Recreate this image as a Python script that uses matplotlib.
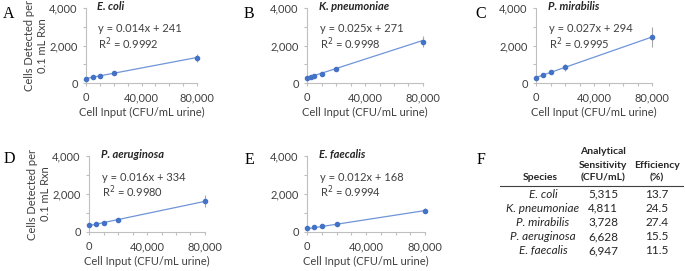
import numpy as np
import matplotlib
matplotlib.use('Agg')
import matplotlib.pyplot as plt
from matplotlib.ticker import MultipleLocator, FuncFormatter

plt.rcParams['font.family'] = ['Lato', 'DejaVu Sans']

# data
species = ['E. coli', 'K. pneumoniae', 'P. mirabilis', 'P. aeruginosa', 'E. faecalis']
panel_letters = ['A', 'B', 'C', 'D', 'E']

x_std = [0, 5000, 10000, 20000, 80000]
x_kp = [0, 2500, 5000, 10000, 20000, 80000]

y_ecoli = [235, 300, 390, 550, 1340]
y_kpneu = [265, 320, 375, 495, 730, 2200]
y_pmir = [285, 410, 600, 830, 2450]
y_paer = [370, 440, 490, 620, 1610]
y_efae = [200, 240, 320, 440, 1120]

err_ecoli = [40, 50, 60, 80, 230]
err_kpneu = [40, 40, 50, 60, 80, 300]
err_pmir = [40, 50, 70, 200, 530]
err_paer = [40, 50, 60, 70, 320]
err_efae = [30, 30, 40, 60, 130]

slopes = [0.014, 0.025, 0.027, 0.016, 0.012]
intercepts = [241, 271, 294, 334, 168]
r2 = ['0.9992', '0.9998', '0.9995', '0.9980', '0.9994']

xs = [x_std, x_kp, x_std, x_std, x_std]
ys = [y_ecoli, y_kpneu, y_pmir, y_paer, y_efae]
errs = [err_ecoli, err_kpneu, err_pmir, err_paer, err_efae]

# table (panel F)
sensitivity = ['5,315', '4,811', '3,728', '6,628', '6,947']
efficiency = ['13.7', '24.5', '27.4', '15.5', '11.5']

W, H = 685, 271
fig = plt.figure(figsize=(W / 100, H / 100), dpi=100)

# axes boxes in pixels: left, top, right, bottom
boxes = [(86, 8, 197, 83), (307, 8, 423, 83), (536, 8, 652, 83),
         (89, 156, 205, 232), (307, 156, 425, 232)]
letter_pos = [(9, 14), (249, 14), (481, 14), (9, 159), (249, 160)]

blue = '#4472C4'
grey = '#BFBFBF'
txt = '#404040'
fs = 8
fmt = FuncFormatter(lambda v, p: '{:,.0f}'.format(v))

for i in range(5):
    l, t, r, b = boxes[i]
    ax = fig.add_axes([l / W, 1 - b / H, (r - l) / W, (b - t) / H])
    x = np.array(xs[i])
    y = np.array(ys[i])
    ax.errorbar(x, y, yerr=errs[i], fmt='none', ecolor='#A6A6A6', elinewidth=0.8,
                capsize=0, clip_on=False, zorder=2)
    xf = np.array([0, 80000])
    ax.plot(xf, slopes[i] * xf + intercepts[i], color='#6F95D8', lw=0.9, clip_on=False, zorder=3)
    ax.plot(x, y, 'o', color=blue, ms=3, clip_on=False, zorder=4)
    ax.set_xlim(0, 80000)
    ax.set_ylim(0, 4000)
    ax.xaxis.set_major_locator(MultipleLocator(40000))
    ax.xaxis.set_minor_locator(MultipleLocator(10000))
    ax.yaxis.set_major_locator(MultipleLocator(2000))
    ax.yaxis.set_minor_locator(MultipleLocator(1000))
    ax.xaxis.set_major_formatter(fmt)
    ax.yaxis.set_major_formatter(fmt)
    for s in ['top', 'right']:
        ax.spines[s].set_visible(False)
    for s in ['left', 'bottom']:
        ax.spines[s].set_color(grey)
        ax.spines[s].set_linewidth(0.8)
    ax.tick_params(which='both', color=grey, width=0.8, length=2.5, labelsize=fs, labelcolor=txt)
    ax.tick_params(axis='x', which='major', pad=4)
    ax.tick_params(axis='y', which='major', pad=3.5)
    ax.set_xlabel('Cell Input (CFU/mL urine)', fontsize=fs, color=txt, labelpad=3)
    if i in (0, 3):
        ax.set_ylabel('Cells Detected per\n0.1 mL Rxn', fontsize=fs, color=txt,
                      labelpad=0.5, linespacing=1.25)
    ax.text(0.1, 1.02, species[i], transform=ax.transAxes, fontsize=fs,
            fontweight='bold', style='italic', va='center', ha='left', color='#262626')
    ax.text(0.11, 0.72, 'y = {:.3f}x + {}'.format(slopes[i], intercepts[i]),
            transform=ax.transAxes, fontsize=fs, va='center', color=txt)
    ax.text(0.11, 0.53, 'R$^2$ = ' + r2[i], transform=ax.transAxes, fontsize=fs,
            va='center', color=txt)
    lx, ly = letter_pos[i]
    fig.text(lx / W, 1 - ly / H, panel_letters[i], fontsize=11.5, family='Liberation Serif',
             ha='center', va='center')

# panel F table
fig.text(481 / W, 1 - 160 / H, 'F', fontsize=11.5, family='Liberation Serif', ha='center', va='center')
hdr = dict(fontsize=7.5, fontweight='bold', ha='center', va='center', color='#262626')
fig.text(603 / W, 1 - 151 / H, 'Analytical', **hdr)
fig.text(603 / W, 1 - 165 / H, 'Sensitivity', **hdr)
fig.text(657 / W, 1 - 165 / H, 'Efficiency', **hdr)
fig.text(540 / W, 1 - 178 / H, 'Species', **hdr)
fig.text(603 / W, 1 - 178 / H, '(CFU/mL)', **hdr)
fig.text(657 / W, 1 - 178 / H, '(%)', **hdr)
fig.add_artist(plt.Line2D([500 / W, 683 / W], [1 - 186 / H, 1 - 186 / H], color=txt, lw=0.8))
for k in range(5):
    yy = 1 - (194 + 14.2 * k) / H
    fig.text(543 / W, yy, species[k], fontsize=8.5, style='italic', ha='center', va='center', color='#262626')
    fig.text(603 / W, yy, sensitivity[k], fontsize=8.5, ha='center', va='center', color='#262626')
    fig.text(657 / W, yy, efficiency[k], fontsize=8.5, ha='center', va='center', color='#262626')

fig.savefig('out.png', dpi=100)
